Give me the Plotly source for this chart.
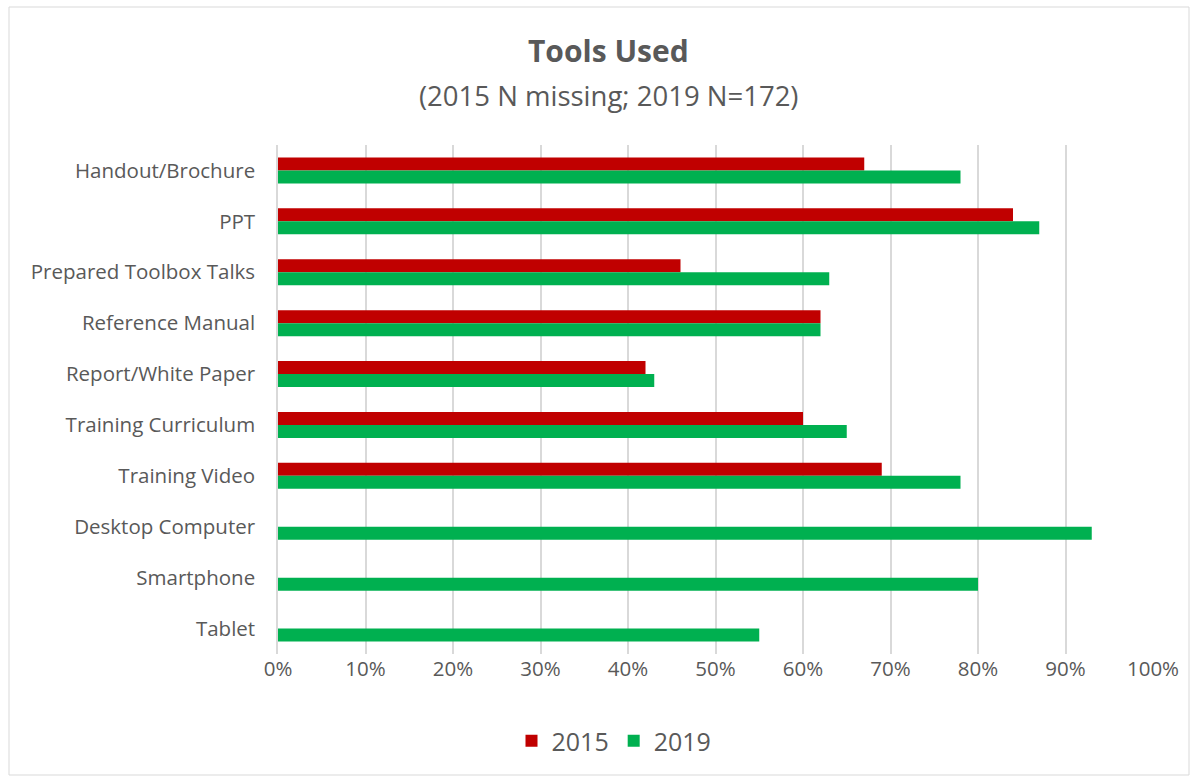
import plotly.graph_objects as go

categories = ["Handout/Brochure", "PPT", "Prepared Toolbox Talks", "Reference Manual",
              "Report/White Paper", "Training Curriculum", "Training Video",
              "Desktop Computer", "Smartphone", "Tablet"]
values_2015 = [67, 84, 46, 62, 42, 60, 69, None, None, None]
values_2019 = [78, 87, 63, 62, 43, 65, 78, 93, 80, 55]
x_ticks = [0, 10, 20, 30, 40, 50, 60, 70, 80, 90, 100]
x_tick_labels = [f"{t}%" for t in x_ticks]

W, H = 1194, 780
L, R, T, B = 278, 1194 - 1153, 145, 780 - 654
pw, ph = W - L - R, H - T - B

def px_x(p):
    return (p - L) / pw

def px_y(p):
    return (H - B - p) / ph

FONT = "Open Sans"
GRAY = "#595959"

fig = go.Figure()
fig.add_trace(go.Bar(y=categories, x=values_2015, name="2015", orientation="h",
                     marker=dict(color="#C00000", line=dict(width=0))))
fig.add_trace(go.Bar(y=categories, x=values_2019, name="2019", orientation="h",
                     marker=dict(color="#00B050", line=dict(width=0))))

fig.update_layout(
    width=W, height=H,
    margin=dict(l=L, r=R, t=T, b=B),
    paper_bgcolor="white", plot_bgcolor="white",
    barmode="group", bargap=0.49, bargroupgap=0,
    font=dict(family=FONT, color=GRAY, size=20),
    showlegend=True,
    legend=dict(orientation="h", x=px_x(614), xanchor="center", y=px_y(741), yanchor="middle",
                font=dict(size=25, color=GRAY), traceorder="normal"),
    xaxis=dict(range=[0, 100], tickvals=x_ticks, ticktext=x_tick_labels,
               showgrid=True, gridcolor="#D9D9D9", gridwidth=1.5, zeroline=False,
               showline=False, tickfont=dict(size=20.5, color=GRAY), fixedrange=True),
    yaxis=dict(autorange="reversed", showgrid=False, showline=True, linecolor="#D9D9D9",
               linewidth=1.5, tickfont=dict(size=20.5, color=GRAY), ticklabelstandoff=17,
               ticks="", fixedrange=True),
)

fig.add_annotation(text="<b>Tools Used</b>", x=px_x(608), y=px_y(50), xref="paper", yref="paper",
                   showarrow=False, font=dict(size=30, color=GRAY, family=FONT),
                   xanchor="center", yanchor="middle")
fig.add_annotation(text="(2015 N missing; 2019 N=172)", x=px_x(608), y=px_y(95), xref="paper",
                   yref="paper", showarrow=False, font=dict(size=27.5, color=GRAY, family=FONT),
                   xanchor="center", yanchor="middle")

fig.add_shape(type="rect", xref="paper", yref="paper",
              x0=px_x(9), x1=px_x(1189), y0=px_y(7), y1=px_y(775),
              line=dict(color="#D9D9D9", width=1), layer="below")

fig.write_html("out.html")
